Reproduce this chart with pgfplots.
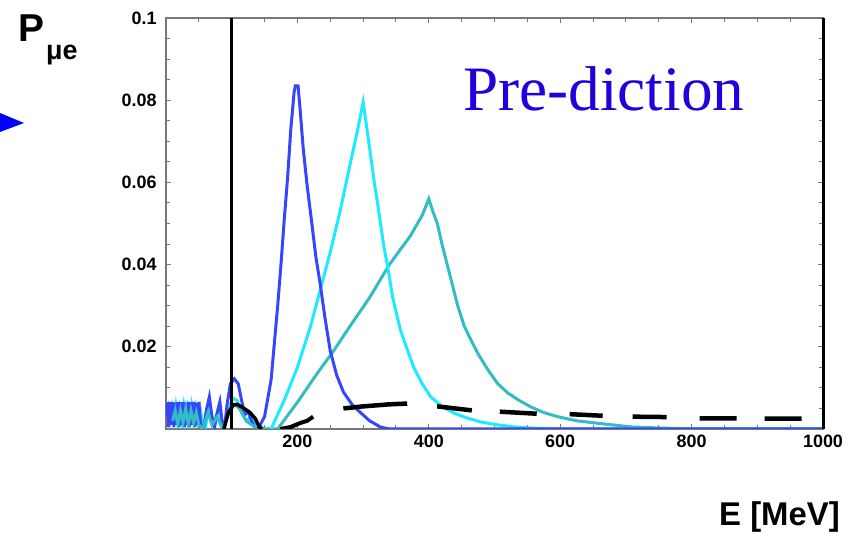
\documentclass[border=0pt]{standalone}
\usepackage{pgfplots}
\pgfplotsset{compat=1.18}
\usepackage{fontspec}
\setmainfont{Liberation Sans}
\newfontfamily\timesfont{Liberation Serif}
\usetikzlibrary{calc}
\definecolor{cblue}{RGB}{55,70,250}
\definecolor{ccyan}{RGB}{30,235,255}
\definecolor{cteal}{RGB}{50,188,195}
\definecolor{ctext}{RGB}{34,0,222}
\definecolor{axgray}{RGB}{120,120,120}
\begin{document}
\begin{tikzpicture}
\begin{axis}[name=ax, scale only axis, width=657bp, height=411bp,
  xmin=0, xmax=1000, ymin=0, ymax=0.1,
  xtick={0,200,400,600,800,1000}, xticklabels={,200,400,600,800,1000},
  ytick={0,0.02,0.04,0.06,0.08,0.1}, yticklabels={,0.02,0.04,0.06,0.08,0.1},
  minor x tick num=3, minor y tick num=3,
  scaled y ticks=false, scaled x ticks=false,
  axis line style={draw=axgray, line width=1.5bp},
  tick style={draw=axgray, line width=1bp},
  major tick length=5bp, minor tick length=4bp,
  tick label style={font=\fontsize{18}{20}\selectfont\bfseries},
  yticklabel style={xshift=-6bp},
  xticklabel style={yshift=-2bp},
  clip=true,
]
% cyan, low-energy oscillations
\addplot[ccyan, line width=3bp] coordinates {
(0,0.004)(3,0.0055)(6,0.002)(9,0.005)(12,0.002)(15,0.0055)(18,0.002)(21,0.005)(24,0.002)(27,0.0055)(30,0.002)(33,0.005)(36,0.002)(39,0.0055)(42,0.002)(45,0.005)(48,0.002)(52,0.005)(56,0.001)(60,0)(65,0.006)(72,0.001)(80,0.005)(88,0)(95,0.005)(102,0.0075)(108,0.007)(115,0.004)(122,0.002)(130,0.003)(140,0.001)(150,0)(160,0)};
% blue, low-energy oscillations
\addplot[cblue, line width=3bp] coordinates {
(0,0.003)(2,0.0065)(4,0.0005)(6,0.0065)(8,0.001)(10,0.0066)(12,0.0005)(14,0.0064)(16,0.001)(18,0.0066)(20,0.0005)(22,0.0065)(24,0.001)(26,0.0066)(28,0.0005)(30,0.0064)(32,0.001)(34,0.0066)(36,0.0005)(38,0.0065)(40,0.001)(42,0.0066)(44,0.0005)(46,0.0064)(48,0.001)(50,0.0066)(53,0.0005)(57,0)(62,0.005)(66,0.0078)(70,0.003)(74,0.0005)(78,0.004)(82,0.0066)(86,0.001)(89,0)(93,0.006)(98,0.011)(104,0.0122)(110,0.011)(115,0.007)(120,0.0035)(125,0.0042)(130,0.002)(136,0.0003)(140,0)};
% teal (E = 400 MeV peak)
\addplot[cteal, line width=3bp] coordinates {
(10,0.002)(14,0.0045)(18,0.001)(22,0.0045)(26,0.0015)(30,0.005)(34,0.001)(38,0.0045)(42,0.0015)(46,0.004)(50,0.001)(56,0)(64,0.004)(70,0.001)(78,0.003)(86,0)(96,0.004)(104,0.006)(112,0.005)(122,0.002)(135,0.0005)(150,0)(170,0)
(200,0.0065)(230,0.0135)(255,0.019)(280,0.025)(310,0.032)(340,0.040)(372,0.047)(390,0.052)(400,0.056)(406,0.053)(413,0.050)(420,0.045)(428,0.040)(436,0.035)(444,0.030)(454,0.025)(464,0.0217)(476,0.018)(490,0.0144)(505,0.011)(520,0.0088)(537,0.007)(555,0.0054)(575,0.004)(596,0.003)(625,0.002)(657,0.0014)(708,0.0005)(760,0.0002)(800,0)(1000,0)};
% cyan (E = 300 MeV peak)
\addplot[ccyan, line width=3bp] coordinates {
(160,0)(180,0.007)(200,0.015)(220,0.025)(235,0.034)(250,0.043)(265,0.053)(281,0.065)(292,0.073)(300,0.0795)(305,0.074)(311,0.067)(317,0.060)(322,0.055)(331,0.045)(339,0.038)(345,0.032)(357,0.024)(368,0.019)(377,0.015)(390,0.011)(403,0.0078)(420,0.0055)(438,0.0039)(458,0.0027)(479,0.0017)(505,0.001)(530,0.0005)(560,0.0002)(600,0)(1000,0)};
% blue main peak
\addplot[cblue, line width=3bp] coordinates {
(140,0)(150,0.003)(160,0.012)(170,0.030)(175,0.040)(180,0.051)(185,0.061)(190,0.073)(195,0.082)(197,0.0835)(201,0.0835)(204,0.078)(209,0.068)(215,0.059)(222,0.050)(228,0.042)(235,0.035)(242,0.027)(250,0.019)(260,0.013)(270,0.009)(283,0.006)(296,0.004)(310,0.002)(326,0.0005)(340,0)(1000,0)};
% black: vertical line at 100 MeV
\addplot[black, line width=3bp] coordinates {(100,0)(100,0.1)};
% black curve
\addplot[black, line width=3.5bp] coordinates {(88,0)(95,0.004)(102,0.0058)(108,0.006)(116,0.0053)(128,0.004)(136,0.0025)(142,0.0005)(146,0)};
\addplot[black, line width=4bp] coordinates {(174,0)(190,0.0005)(205,0.0015)(215,0.002)(224,0.003)};
\addplot[black, line width=4.5bp, dash pattern=on 64bp off 30bp on 35bp off 28bp on 37bp off 33bp on 33bp off 30bp on 34bp off 33bp on 37bp off 28bp on 37bp off 60bp] coordinates {
(270,0.0050)(300,0.0055)(340,0.0060)(368,0.0062)(413,0.0055)(467,0.0045)(510,0.0042)(566,0.0037)(616,0.0036)(667,0.0032)(712,0.0030)(764,0.0029)(815,0.0026)(871,0.0026)(914,0.0025)(970,0.0025)(1000,0.0025)};
\node[anchor=base west, text=ctext, font=\timesfont\fontsize{63.5}{70}\selectfont, inner sep=0pt] at (axis cs:452,0.0774) {Pre-diction};
\end{axis}
\draw[black, line width=3bp] (ax.south east) -- (ax.north east);
\path[use as bounding box] ($(ax.south west)+(-166bp,-104bp)$) rectangle ($(ax.north east)+(32bp,18bp)$);
\node[anchor=base west, inner sep=0pt, font=\fontsize{39}{42}\selectfont\bfseries] at ($(ax.south west)+(-148bp,387bp)$) {P};
\node[anchor=base west, inner sep=0pt, font=\fontsize{27}{30}\selectfont\bfseries] at ($(ax.south west)+(-120bp,369bp)$) {μe};
\node[anchor=base east, inner sep=0pt, font=\fontsize{33}{36}\selectfont\bfseries] at ($(ax.south west)+(674bp,-96bp)$) {E [MeV]};
\fill[blue] ($(ax.south west)+(-166bp,316bp)$) -- ($(ax.south west)+(-142bp,306bp)$) -- ($(ax.south west)+(-166bp,297bp)$) -- cycle;
\end{tikzpicture}
\end{document}
